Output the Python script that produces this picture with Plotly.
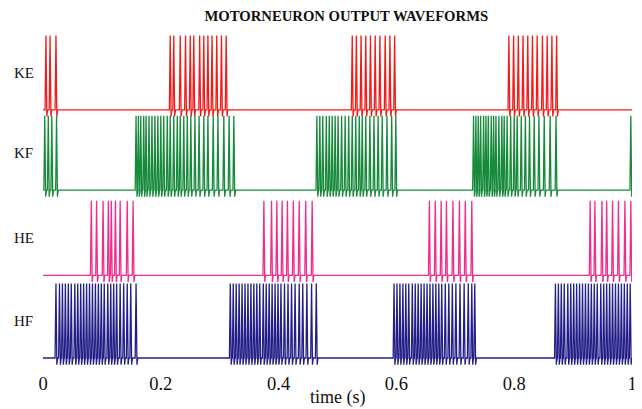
import plotly.graph_objects as go

# ---- data (spike times in seconds) ----
trace_names = ["KE", "KF", "HE", "HF"]

ke_spikes = [0.005, 0.012, 0.022,
             0.216, 0.222, 0.233, 0.242, 0.250, 0.256, 0.266, 0.273, 0.280, 0.287, 0.295, 0.303, 0.311,
             0.525, 0.532, 0.540, 0.548, 0.556, 0.564, 0.572, 0.581, 0.589, 0.597,
             0.791, 0.799, 0.807, 0.815, 0.823, 0.831, 0.839, 0.848, 0.856, 0.864, 0.872]

kf_spikes = [0.003, 0.009, 0.015, 0.023,
             0.158, 0.162, 0.166, 0.171, 0.175, 0.180, 0.185, 0.190, 0.195, 0.200, 0.205, 0.211,
             0.216, 0.222, 0.228, 0.233, 0.239, 0.245, 0.251, 0.258, 0.265, 0.273, 0.280, 0.289,
             0.297, 0.307, 0.316, 0.324,
             0.465, 0.470, 0.475, 0.481, 0.486, 0.491, 0.496, 0.501, 0.507, 0.513, 0.519, 0.525,
             0.531, 0.537, 0.542, 0.548, 0.555, 0.562, 0.569, 0.576, 0.584, 0.592, 0.599,
             0.731, 0.735, 0.739, 0.743, 0.748, 0.752, 0.756, 0.761, 0.765, 0.769, 0.774, 0.779,
             0.783, 0.788, 0.794, 0.800, 0.805, 0.812, 0.819, 0.826, 0.834, 0.842, 0.851, 0.861,
             0.871, 0.998]

he_spikes = [0.082, 0.091, 0.102, 0.111, 0.116, 0.123, 0.131, 0.143, 0.153,
             0.375, 0.388, 0.397, 0.406, 0.415, 0.425, 0.435, 0.446, 0.457,
             0.656, 0.666, 0.676, 0.685, 0.696, 0.707, 0.717, 0.728,
             0.929, 0.937, 0.949, 0.957, 0.967, 0.977, 0.988, 0.998]

hf_spikes = [0.022, 0.028, 0.033, 0.038, 0.043, 0.048, 0.054, 0.059, 0.064, 0.069, 0.074, 0.079,
             0.084, 0.089, 0.094, 0.099, 0.104, 0.110, 0.115, 0.120, 0.125, 0.131, 0.137, 0.143,
             0.149, 0.158,
             0.318, 0.323, 0.328, 0.333, 0.338, 0.343, 0.348, 0.353, 0.358, 0.363, 0.368, 0.374,
             0.379, 0.384, 0.389, 0.394, 0.399, 0.404, 0.410, 0.416, 0.422, 0.428, 0.435, 0.441,
             0.448, 0.456, 0.464,
             0.596, 0.601, 0.606, 0.611, 0.616, 0.621, 0.627, 0.632, 0.637, 0.642, 0.647, 0.652,
             0.657, 0.662, 0.667, 0.672, 0.677, 0.683, 0.689, 0.695, 0.701, 0.708, 0.715, 0.722,
             0.728, 0.733,
             0.870, 0.875, 0.880, 0.885, 0.891, 0.896, 0.901, 0.906, 0.911, 0.916, 0.921, 0.926,
             0.931, 0.936, 0.941, 0.947, 0.952, 0.957, 0.962, 0.967, 0.972, 0.977, 0.982, 0.987,
             0.992, 0.997]

trace_offsets = [3.0, 2.03, 1.0, 0.0]
trace_colors = ["#f51a1a", "#188a3c", "#ee2d8c", "#241f88"]

tick_vals = [0, 0.2, 0.4, 0.6, 0.8, 1.0]
tick_text = ["0", "0.2", "0.4", "0.6", "0.8", "1"]

# ---- spike shape (style) ----
AMP = 0.9
RISE = 0.0015
FALL = 0.0015
UNDER = 0.08
RECOV = 0.0013


def waveform(spikes, base):
    xs, ys = [0.0], [base]
    for t in spikes:
        xs += [max(t - RISE, 0), t, min(t + FALL, 1.0), min(t + FALL + RECOV, 1.0)]
        ys += [base, base + AMP, base - UNDER, base]
    xs.append(1.0)
    ys.append(base)
    return xs, ys


fig = go.Figure()
all_spikes = [ke_spikes, kf_spikes, he_spikes, hf_spikes]
for name, sp, off, col in zip(trace_names, all_spikes, trace_offsets, trace_colors):
    x, y = waveform(sp, off)
    fig.add_trace(go.Scatter(x=x, y=y, mode="lines", name=name,
                             line=dict(color=col, width=1.3), hoverinfo="skip"))

font_family = "Liberation Serif, Times New Roman, serif"

annotations = []
for name, off in zip(trace_names, trace_offsets):
    annotations.append(dict(text=name, x=-0.0526, xref="paper", y=off + 0.45, yref="y",
                            xanchor="left", yanchor="middle", showarrow=False,
                            font=dict(family=font_family, size=15, color="#111")))
annotations.append(dict(text="time (s)", x=0.5, xref="paper", y=-0.082, yref="paper",
                        xanchor="center", yanchor="middle", showarrow=False,
                        font=dict(family=font_family, size=18, color="#111")))

# the page body has an 8px margin, so the figure is sized/offset to compensate
fig.update_layout(
    width=634, height=401,
    margin=dict(l=35, r=10, t=22, b=39, autoexpand=False),
    paper_bgcolor="white", plot_bgcolor="white",
    showlegend=False,
    title=dict(text="<b>MOTORNEURON OUTPUT WAVEFORMS</b>", x=0.515, xref="paper",
               y=1 - 8 / 401, yref="container", xanchor="center", yanchor="middle",
               font=dict(family=font_family, size=14.7, color="#111")),
    xaxis=dict(range=[0, 1], tickvals=tick_vals, ticktext=tick_text, showgrid=False,
               zeroline=False, showline=False, ticks="",
               tickfont=dict(family=font_family, size=18.5, color="#111")),
    yaxis=dict(range=[-0.145, 3.966], visible=False, showgrid=False, zeroline=False),
    annotations=annotations,
)

fig.write_html("out.html")
